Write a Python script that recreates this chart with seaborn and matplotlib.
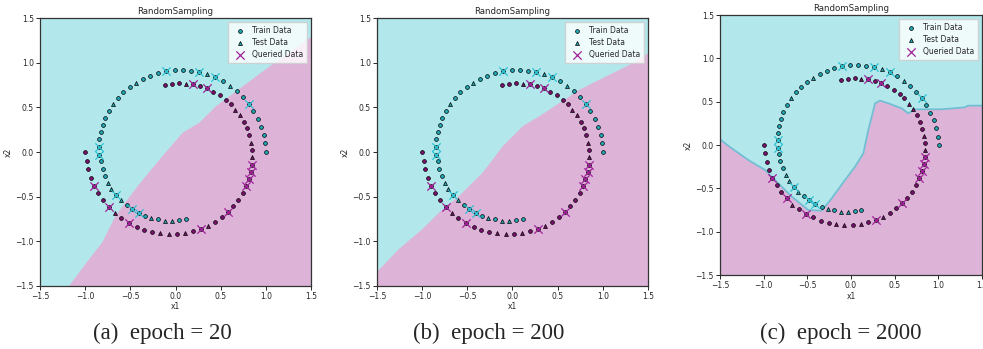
import numpy as np
import pandas as pd
import matplotlib
matplotlib.use("Agg")
import matplotlib.pyplot as plt
import seaborn as sns

sns.set_style("ticks")
plt.rcParams["font.family"] = ["DejaVu Sans"]

# ── Data ─────────────────────────────────────────────────────────────
# outer arc, class 0 (cyan); kind: o = train, t = test, q = queried (train point picked)
c0_x = [1.003, 0.994, 0.975, 0.946, 0.909, 0.861, 0.812, 0.745, 0.679, 0.605,
        0.527, 0.442, 0.353, 0.265, 0.172, 0.080, -0.009, -0.102, -0.190, -0.279,
        -0.357, -0.435, -0.509, -0.576, -0.635, -0.687, -0.735, -0.776, -0.805, -0.827,
        -0.842, -0.842, -0.842, -0.823, -0.808, -0.783, -0.745, -0.712, -0.657, -0.605,
        -0.542, -0.479, -0.409, -0.338, -0.268, -0.190, -0.113, -0.039, 0.043, 0.113]
c0_y = [0.000, 0.097, 0.193, 0.286, 0.375, 0.461, 0.542, 0.613, 0.680, 0.739,
        0.795, 0.840, 0.873, 0.895, 0.914, 0.921, 0.918, 0.906, 0.884, 0.858,
        0.821, 0.776, 0.728, 0.669, 0.606, 0.542, 0.464, 0.386, 0.301, 0.223,
        0.141, 0.056, -0.030, -0.104, -0.189, -0.267, -0.345, -0.416, -0.479, -0.542,
        -0.591, -0.639, -0.680, -0.713, -0.739, -0.754, -0.769, -0.773, -0.762, -0.754]
c0_kind = ("o o o o o o q o o t  o q t q o o o q o o  o t o o o t o o o o  "
           "o q q o o o t t q t  o q q o t o t t o o").split()

# inner arc, class 1 (purple)
c1_x = [-1.000, -0.985, -0.967, -0.937, -0.900, -0.853, -0.805, -0.738, -0.672, -0.598,
        -0.516, -0.431, -0.346, -0.257, -0.168, -0.076, 0.017, 0.109, 0.198, 0.283,
        0.364, 0.442, 0.512, 0.579, 0.638, 0.694, 0.742, 0.779, 0.808, 0.831,
        0.845, 0.849, 0.845, 0.834, 0.816, 0.790, 0.753, 0.712, 0.664, 0.609,
        0.557, 0.490, 0.416, 0.346, 0.272, 0.194, 0.116, 0.043, -0.035, -0.113]
c1_y = [0.000, -0.097, -0.193, -0.286, -0.379, -0.464, -0.542, -0.617, -0.687, -0.743,
        -0.795, -0.836, -0.873, -0.899, -0.914, -0.921, -0.918, -0.906, -0.888, -0.862,
        -0.825, -0.780, -0.728, -0.672, -0.609, -0.539, -0.464, -0.386, -0.305, -0.223,
        -0.141, -0.059, 0.026, 0.104, 0.186, 0.267, 0.342, 0.412, 0.475, 0.539,
        0.587, 0.635, 0.676, 0.713, 0.739, 0.758, 0.762, 0.769, 0.762, 0.754]
c1_kind = ("o o o o q o o q t o  q o o o t t o t o q  t o o q o o o q q q  "
           "q t o t o o o t t o  o o o q o q t o o o").split()

# decision boundaries (pink region lies below the curve)
bnd_a_x = [-1.185, -1.0, -0.815, -0.667, -0.519, -0.407, -0.148, 0.074, 0.259,
           0.444, 0.593, 0.815, 1.037, 1.259, 1.5]
bnd_a_y = [-1.5, -1.248, -1.006, -0.708, -0.503, -0.354, -0.037, 0.223, 0.335,
           0.521, 0.633, 0.8, 0.968, 1.117, 1.30]
bnd_b_x = [-1.5, -1.259, -1.0, -0.815, -0.593, -0.333, -0.111, 0.111, 0.296,
           0.519, 0.741, 1.037, 1.333, 1.5]
bnd_b_y = [-1.333, -1.08, -0.857, -0.67, -0.484, -0.223, 0.074, 0.298, 0.41,
           0.559, 0.708, 0.857, 1.006, 1.117]
bnd_c_x = [-1.5, -1.366, -1.176, -0.985, -0.832, -0.679, -0.489, -0.336, -0.221,
           -0.069, 0.046, 0.141, 0.198, 0.237, 0.275, 0.332, 0.427, 0.58, 0.656,
           0.733, 1.038, 1.305, 1.34, 1.5]
bnd_c_y = [0.065, -0.038, -0.173, -0.288, -0.442, -0.596, -0.75, -0.758, -0.615,
           -0.404, -0.25, -0.096, 0.173, 0.327, 0.481, 0.512, 0.481, 0.423, 0.365,
           0.412, 0.412, 0.435, 0.454, 0.454]

captions = ["(a)  epoch = 20", "(b)  epoch = 200", "(c)  epoch = 2000"]
ticks = [-1.5, -1.0, -0.5, 0.0, 0.5, 1.0, 1.5]

# ── Colours ──────────────────────────────────────────────────────────
BG_CYAN = "#b2e8ec"
BG_PINK = "#ddb4d8"
PT = ["#1fa8b6", "#7c0f6f"]
QX = ["#2cc3d3", "#a2229b"]

pts = pd.concat([
    pd.DataFrame({"x": c0_x, "y": c0_y, "kind": c0_kind, "cls": 0}),
    pd.DataFrame({"x": c1_x, "y": c1_y, "kind": c1_kind, "cls": 1}),
], ignore_index=True)

fig = plt.figure(figsize=(9.83, 3.49), dpi=100)
boxes = [[0.0407, 0.1814, 0.2757, 0.766],
         [0.3835, 0.1814, 0.2757, 0.766],
         [0.7325, 0.212, 0.2665, 0.745]]
bounds = [(bnd_a_x, bnd_a_y), (bnd_b_x, bnd_b_y), (bnd_c_x, bnd_c_y)]
cap_x = [0.165, 0.497, 0.855]

for i, (box, (bx, by)) in enumerate(zip(boxes, bounds)):
    ax = fig.add_axes(box)
    ax.set_facecolor(BG_CYAN)
    ax.fill_between(bx, by, -1.5, color=BG_PINK, lw=0, zorder=0.5)
    if i == 2:
        ax.plot(bx, by, color="#74bdd3", lw=1.3, zorder=0.6)

    for cls in (0, 1):
        d = pts[pts["cls"] == cls]
        tr = d[d["kind"].isin(["o", "q"])]
        sns.scatterplot(data=tr, x="x", y="y", ax=ax, color=PT[cls], marker="o",
                        s=7.5, edgecolor="black", linewidth=0.5, zorder=3,
                        label="Train Data" if cls == 0 else None)
    for cls in (0, 1):
        d = pts[pts["cls"] == cls]
        te = d[d["kind"] == "t"]
        sns.scatterplot(data=te, x="x", y="y", ax=ax, color=PT[cls], marker="^",
                        s=8, edgecolor="black", linewidth=0.5, zorder=3,
                        label="Test Data" if cls == 0 else None)
    for cls in (0, 1):
        d = pts[pts["cls"] == cls]
        q = d[d["kind"] == "q"]
        sns.scatterplot(data=q, x="x", y="y", ax=ax, color=QX[cls], marker="x",
                        s=36, linewidth=0.9, zorder=4,
                        label="Queried Data" if cls == 1 else None)

    ax.set_xlim(-1.5, 1.5)
    ax.set_ylim(-1.5, 1.5)
    ax.set_xticks(ticks)
    ax.set_yticks(ticks)
    ax.tick_params(labelsize=5.5, length=3, width=0.7, pad=1.5)
    ax.set_xlabel("x1", fontsize=5.5, labelpad=1)
    ax.set_ylabel("x2", fontsize=5.5, labelpad=2)
    ax.set_title("RandomSampling", fontsize=6.2, pad=3)
    for sp in ax.spines.values():
        sp.set_linewidth(0.9)
        sp.set_color("#333333")
    ax.legend(loc="upper right", fontsize=5.5, frameon=True, framealpha=0.8,
              borderpad=0.5, handletextpad=0.6, labelspacing=0.4,
              fancybox=False, edgecolor="#cccccc")

    fig.text(cap_x[i], 0.045, captions[i], ha="center", va="center",
             fontsize=16.5, family=["Liberation Serif", "DejaVu Serif"])

fig.savefig("out.png", dpi=100)
